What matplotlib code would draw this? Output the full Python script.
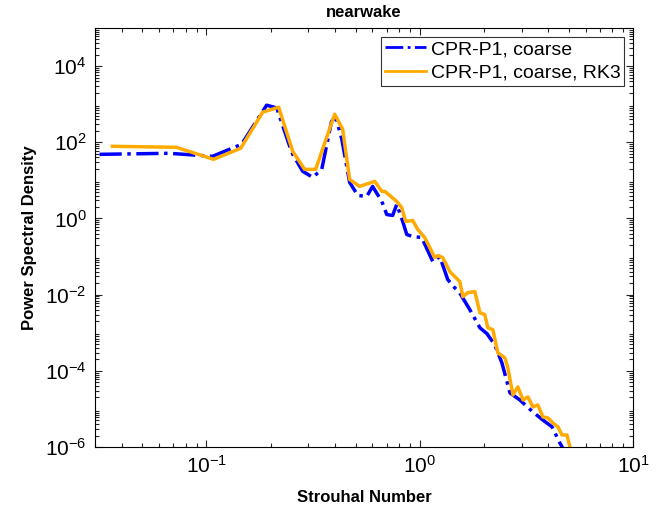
import numpy as np
import matplotlib as mpl
mpl.use('Agg')
import matplotlib.pyplot as plt
from matplotlib.ticker import LogLocator, NullFormatter

plt.rcParams['font.family'] = ['Liberation Sans', 'DejaVu Sans']
plt.rcParams['mathtext.fontset'] = 'custom'
plt.rcParams['mathtext.rm'] = 'Liberation Sans'
plt.rcParams['mathtext.it'] = 'Liberation Sans:italic'

# CPR-P1, coarse
st_coarse = [0.0315, 0.0670, 0.1067, 0.146, 0.1914, 0.2135, 0.2455, 0.2537, 0.2825,
             0.315, 0.347, 0.386, 0.404, 0.431, 0.469, 0.512, 0.564, 0.601, 0.664,
             0.700, 0.746, 0.780, 0.832, 0.869, 0.927, 1.021, 1.151, 1.241, 1.353,
             1.445, 1.541, 1.717, 1.914, 2.064, 2.249, 2.427, 2.647, 2.946, 3.393,
             3.779, 4.169, 4.54, 4.80]
psd_coarse = [48.3, 51.4, 42.8, 88.5, 942, 800, 78.5, 48.3, 17.3,
              12.0, 19.5, 357, 455, 120, 8.86, 4.03, 3.79, 6.95, 2.80,
              1.27, 1.20, 2.34, 0.834, 0.379, 0.336, 0.316, 0.0738, 0.1, 0.0248,
              0.0160, 0.0110, 0.00403, 0.00135, 0.00095, 4.8e-4, 1.62e-4, 2.64e-5, 1.72e-5, 8.3e-6,
              5.1e-6, 3.4e-6, 1.27e-6, 7.4e-7]

# CPR-P1, coarse, RK3
st_rk3 = [0.0362, 0.0723, 0.1079, 0.1446, 0.1833, 0.2179, 0.2537, 0.2884, 0.325,
          0.399, 0.435, 0.469, 0.522, 0.615, 0.664, 0.686, 0.780, 0.822, 0.859,
          0.927, 0.979, 1.055, 1.114, 1.175, 1.216, 1.282, 1.384, 1.541, 1.592,
          1.680, 1.812, 1.914, 2.018, 2.085, 2.202, 2.323, 2.506, 2.588, 2.735,
          2.884, 3.048, 3.213, 3.393, 3.58, 3.779, 3.99, 4.21, 4.45, 4.64,
          4.90, 5.06, 5.18]
psd_rk3 = [78.5, 73.8, 35.7, 69.5, 615, 834, 57.9, 19.5, 19.5,
           545, 220, 10.6, 6.95, 9.42, 5.14, 5.14, 2.80, 1.95, 0.834,
           0.886, 0.514, 0.316, 0.173, 0.0941, 0.106, 0.0941, 0.0403, 0.0220, 0.00886,
           0.0113, 0.0120, 0.00336, 0.00298, 0.00135, 0.0012, 2.98e-4, 2.2e-4, 1.2e-4, 2.34e-5,
           3.79e-5, 1.72e-5, 2.07e-5, 1.13e-5, 1.27e-5, 6.15e-6, 5.8e-6, 4.28e-6, 3.36e-6, 2.07e-6,
           2.07e-6, 1.0e-6, 6.0e-7]

fig = plt.figure(figsize=(6.61, 5.15), dpi=100)
ax = fig.add_axes([0.1437, 0.132, 0.814, 0.8136])

ax.loglog(st_coarse, psd_coarse, '-.', color=(0, 0, 1), linewidth=2.5,
          label='CPR-P1, coarse')
ax.loglog(st_rk3, psd_rk3, '-', color='#FFAA00', linewidth=2.5,
          label='CPR-P1, coarse, RK3')

ax.set_xlim(0.03, 10)
ax.set_ylim(1e-6, 1e5)
ax.set_yticks([1e-6, 1e-4, 1e-2, 1e0, 1e2, 1e4])
ax.yaxis.set_minor_locator(LogLocator(base=10, subs=np.arange(2, 10), numticks=20))
ax.yaxis.set_minor_formatter(NullFormatter())
ax.xaxis.set_minor_formatter(NullFormatter())

ax.tick_params(which='both', direction='in', top=True, right=True, labelsize=15,
               width=0.8, color='#262626')
ax.tick_params(which='major', length=5, pad=6)
ax.tick_params(which='minor', length=3)
for sp in ax.spines.values():
    sp.set_linewidth(0.8)

ax.set_title('nearwake', fontsize=12, fontweight='bold', pad=8)
ax.set_xlabel('Strouhal Number', fontsize=12, fontweight='bold', labelpad=9)
ax.set_ylabel('Power Spectral Density', fontsize=12, fontweight='bold', labelpad=6)

leg = ax.legend(loc='upper right', fontsize=14, frameon=True, fancybox=False,
                edgecolor='black', borderpad=0.2, handlelength=2.1,
                handletextpad=0.25, labelspacing=0.3, borderaxespad=0.45)
leg.get_frame().set_linewidth(0.8)
for line in leg.get_lines():
    line.set_linewidth(2.0)

fig.savefig('out.png', dpi=100)
